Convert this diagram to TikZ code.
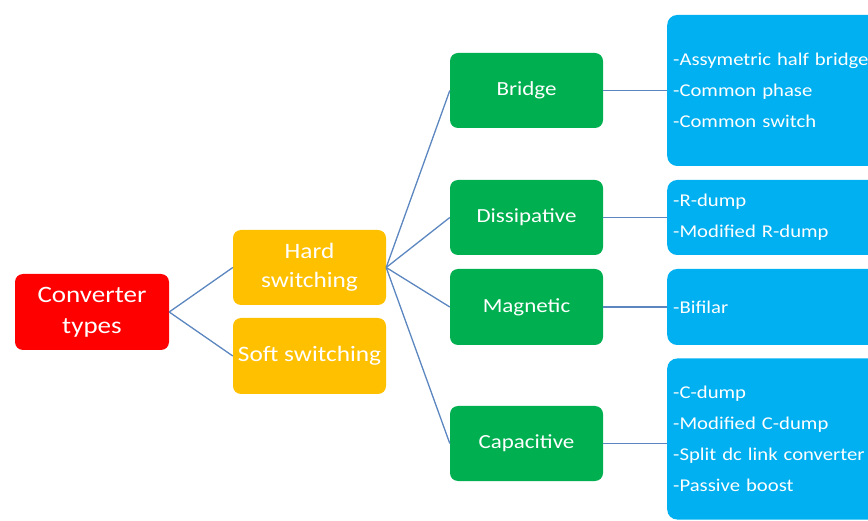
\documentclass[tikz,border=0pt]{standalone}
\usepackage{fontspec}
\setmainfont{Carlito}[FakeStretch=1.15]
\usepackage{xcolor}
\usepackage{tikz}
\usetikzlibrary{positioning, calc}
\definecolor{convred}{HTML}{FF0000}
\definecolor{switchgold}{HTML}{FFC000}
\definecolor{typegreen}{HTML}{00B050}
\definecolor{listblue}{HTML}{00B0F0}
\definecolor{linkblue}{HTML}{5B86BF}
\tikzstyle{box} = [rounded corners=8pt, inner sep=0pt, text=white, align=center, minimum width=153pt, minimum height=75pt]
\tikzstyle{rootbox} = [box, fill=convred, minimum width=154pt, minimum height=76pt, font=\fontsize{23.5}{31}\selectfont]
\tikzstyle{switchbox} = [box, fill=switchgold, font=\fontsize{22}{29}\selectfont]
\tikzstyle{typebox} = [box, fill=typegreen, font=\fontsize{20}{24}\selectfont]
\tikzstyle{listbox} = [rounded corners=10pt, fill=listblue, text=white, anchor=west, align=left, text width=200pt, inner xsep=6pt, inner ysep=0pt, font=\fontsize{18}{31}\selectfont]
\tikzstyle{link} = [linkblue, line width=1.3pt]

\begin{document}
\begin{tikzpicture}[x=1pt, y=-1pt]
    \useasboundingbox (0,0) rectangle (868,521);
    \clip (0,0) rectangle (868,521);

    % Raiz
    \node[rootbox] (conv) at (92,312) {Converter\\types};

    % Conmutacion
    \node[switchbox] (hard) at (309.5,267.5) {Hard\\switching};
    \node[switchbox, minimum height=76pt] (soft) at (309.5,356) {Soft switching};

    % Tipos
    \node[typebox] (bridge) at (526.5,90.5) {Bridge};
    \node[typebox] (diss) at (526.5,217.5) {Dissipative};
    \node[typebox, minimum height=76pt] (magn) at (526.5,307) {Magnetic};
    \node[typebox] (capa) at (526.5,443.5) {Capacitive};

    % Listas
    \node[listbox, minimum height=151pt] (bridgelist) at (667,90.5)
        {-Assymetric half bridge\\-Common phase\\-Common switch};
    \node[listbox, minimum height=75pt] (disslist) at (667,217.5)
        {-R-dump\\-Modified R-dump};
    \node[listbox, minimum height=76pt] (magnlist) at (667,307) {-Bifilar};
    \node[listbox, minimum height=161pt] (capalist) at (667,439)
        {-C-dump\\-Modified C-dump\\-Split dc link converter\\-Passive boost};

    % Conexiones
    \draw[link] (conv.east) -- (hard.west);
    \draw[link] (conv.east) -- (soft.west);
    \foreach \t in {bridge, diss, magn, capa}
        \draw[link] (hard.east) -- (\t.west);
    \foreach \t in {bridge, diss, magn, capa}
        \draw[link] (\t.east) -- (\t.east -| \t list.west);
\end{tikzpicture}
\end{document}
